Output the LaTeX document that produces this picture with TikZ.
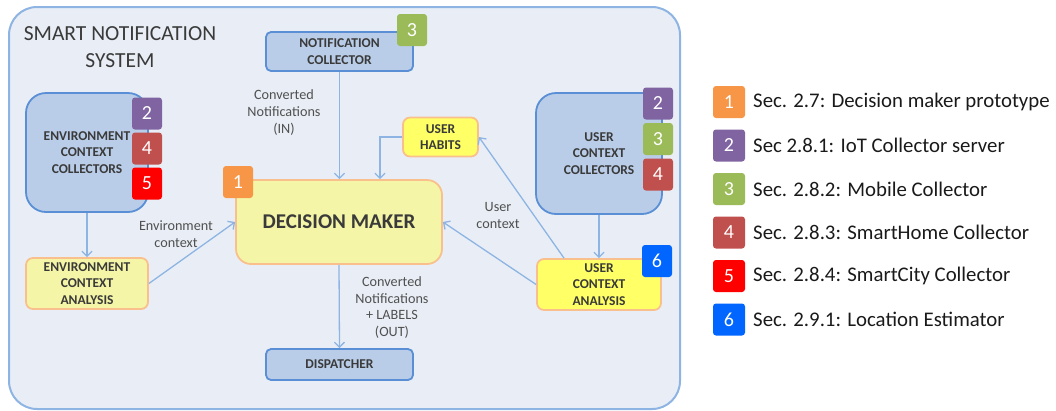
\documentclass[tikz,border=0pt]{standalone}
\usepackage{fontspec}
\setmainfont{Carlito}
\usetikzlibrary{arrows.meta,calc}

\definecolor{framefill}{HTML}{E9EEF6}
\definecolor{frameline}{HTML}{8EB4E3}
\definecolor{bluefill}{HTML}{B9CDE8}
\definecolor{blueline}{HTML}{5A8FD6}
\definecolor{paleyellow}{HTML}{F4F5A6}
\definecolor{brightyellow}{HTML}{FFFF66}
\definecolor{orangeline}{HTML}{F9C08E}
\definecolor{arrowblue}{HTML}{8EB4E3}
\definecolor{boxtext}{HTML}{3A3A3A}
\definecolor{labeltext}{HTML}{505050}
\definecolor{legendtext}{HTML}{1A1A1A}
\definecolor{cOne}{HTML}{F79646}
\definecolor{cTwo}{HTML}{8064A2}
\definecolor{cThree}{HTML}{9BBB59}
\definecolor{cFour}{HTML}{C0504D}
\definecolor{cFive}{HTML}{FF0000}
\definecolor{cSix}{HTML}{0066FF}

\begin{document}
\begin{tikzpicture}[x=1pt,y=1pt,
  boxfont/.style={font=\fontsize{13.5}{16.5}\selectfont\bfseries, text=boxtext, align=center},
  bluebox/.style={boxfont, draw=blueline, line width=1.8pt, fill=bluefill, rounded corners=5pt, inner sep=0pt},
  collbox/.style={bluebox, rounded corners=20pt},
  palebox/.style={boxfont, draw=orangeline, line width=1.8pt, fill=paleyellow, rounded corners=7pt, inner sep=0pt},
  brightbox/.style={palebox, fill=brightyellow},
  badge/.style={fill=#1, rounded corners=3pt, minimum width=30pt, minimum height=32pt, inner sep=0pt,
    text=white, font=\fontsize{20}{20}\selectfont},
  lbadge/.style={badge=#1, minimum width=32pt},
  flowlabel/.style={font=\fontsize{14.2}{16.8}\selectfont, text=labeltext, align=center},
  legendlabel/.style={font=\fontsize{20.8}{22}\selectfont, text=legendtext, anchor=west, inner sep=0pt},
  arr/.style={draw=arrowblue, line width=1.3pt, -{Straight Barb[length=5pt,width=10pt]}}
]
\useasboundingbox (0,0) rectangle (1056,-410);

% system frame
\draw[draw=frameline, line width=2pt, fill=framefill, rounded corners=28pt] (9,-7) rectangle (680,-409);
\node[font=\fontsize{21.5}{27}\selectfont, text=boxtext, align=center] (title) at (120,-47) {SMART NOTIFICATION\\SYSTEM};

% components
\node[bluebox, minimum width=147pt, minimum height=39pt] (ncoll) at (339.5,-51.5) {NOTIFICATION\\COLLECTOR};
\node[collbox, minimum width=122pt, minimum height=119pt] (ecoll) at (87,-152.5) {ENVIRONMENT\\CONTEXT\\COLLECTORS};
\node[palebox, minimum width=122pt, minimum height=51pt] (eana) at (87,-283.5) {ENVIRONMENT\\CONTEXT\\ANALYSIS};
\node[palebox, rounded corners=15pt, minimum width=206pt, minimum height=84pt,
      font=\fontsize{21}{24}\selectfont\bfseries] (dm) at (339,-222) {DECISION MAKER};
\node[brightbox, minimum width=75pt, minimum height=39pt] (habits) at (440.5,-137) {USER\\HABITS};
\node[collbox, minimum width=126pt, minimum height=121pt] (ucoll) at (599,-153.5) {USER\\CONTEXT\\COLLECTORS};
\node[brightbox, minimum width=124pt, minimum height=51pt] (uana) at (599,-284.5) {USER\\CONTEXT\\ANALYSIS};
\node[bluebox, minimum width=147pt, minimum height=31pt] (disp) at (339.5,-364.5) {DISPATCHER};

% section badges
\node[badge=cThree] (bncoll) at (412,-30) {3};
\node[badge=cTwo] (be2) at (147,-113.5) {2};
\node[badge=cFour] (be4) at (147,-148.5) {4};
\node[badge=cFive] (be5) at (147,-183.5) {5};
\node[badge=cOne] (bdm) at (238,-182) {1};
\node[badge=cTwo] (bu2) at (658,-103.5) {2};
\node[badge=cThree] (bu3) at (658,-139) {3};
\node[badge=cFour] (bu4) at (658,-174.5) {4};
\node[badge=cSix] (buana) at (657,-261) {6};

% connectors
\draw[arr] (ncoll.south) -- (ncoll.south |- dm.north);
\draw[arr] (habits.west) -| ([xshift=41pt]dm.north);
\draw[arr] (ecoll.south) -- (eana.north);
\draw[arr] (eana.east) -- (dm.west);
\draw[arr] (ucoll.south) -- (uana.north);
\draw[arr] ([xshift=-35pt]uana.north) -- (habits.east);
\draw[arr] (uana.west) -- (dm.east);
\draw[arr] (dm.south) -- (disp.north);

% connector labels
\node[flowlabel] (lin) at (284,-112.5) {Converted\\Notifications\\(IN)};
\node[flowlabel] (lenv) at (176,-234.5) {Environment\\context};
\node[flowlabel] (luser) at (498,-215.5) {User\\context};
\node[flowlabel] (lout) at (392,-307.5) {Converted\\Notifications\\+ LABELS\\(OUT)};

% legend
\node[lbadge=cOne] (k1) at (729,-102) {1};
\node[lbadge=cTwo] (k2) at (729,-145.5) {2};
\node[lbadge=cThree] (k3) at (729,-189) {3};
\node[lbadge=cFour] (k4) at (729,-232.5) {4};
\node[lbadge=cFive] (k5) at (729,-276) {5};
\node[lbadge=cSix] (k6) at (729,-319.5) {6};
\node[legendlabel] (t1) at (753,-102) {Sec. 2.7: Decision maker prototype};
\node[legendlabel] (t2) at (753,-145.5) {Sec 2.8.1: IoT Collector server};
\node[legendlabel] (t3) at (753,-189) {Sec. 2.8.2: Mobile Collector};
\node[legendlabel] (t4) at (753,-232.5) {Sec. 2.8.3: SmartHome Collector};
\node[legendlabel] (t5) at (753,-276) {Sec. 2.8.4: SmartCity Collector};
\node[legendlabel] (t6) at (753,-319.5) {Sec. 2.9.1: Location Estimator};
\end{tikzpicture}
\end{document}
